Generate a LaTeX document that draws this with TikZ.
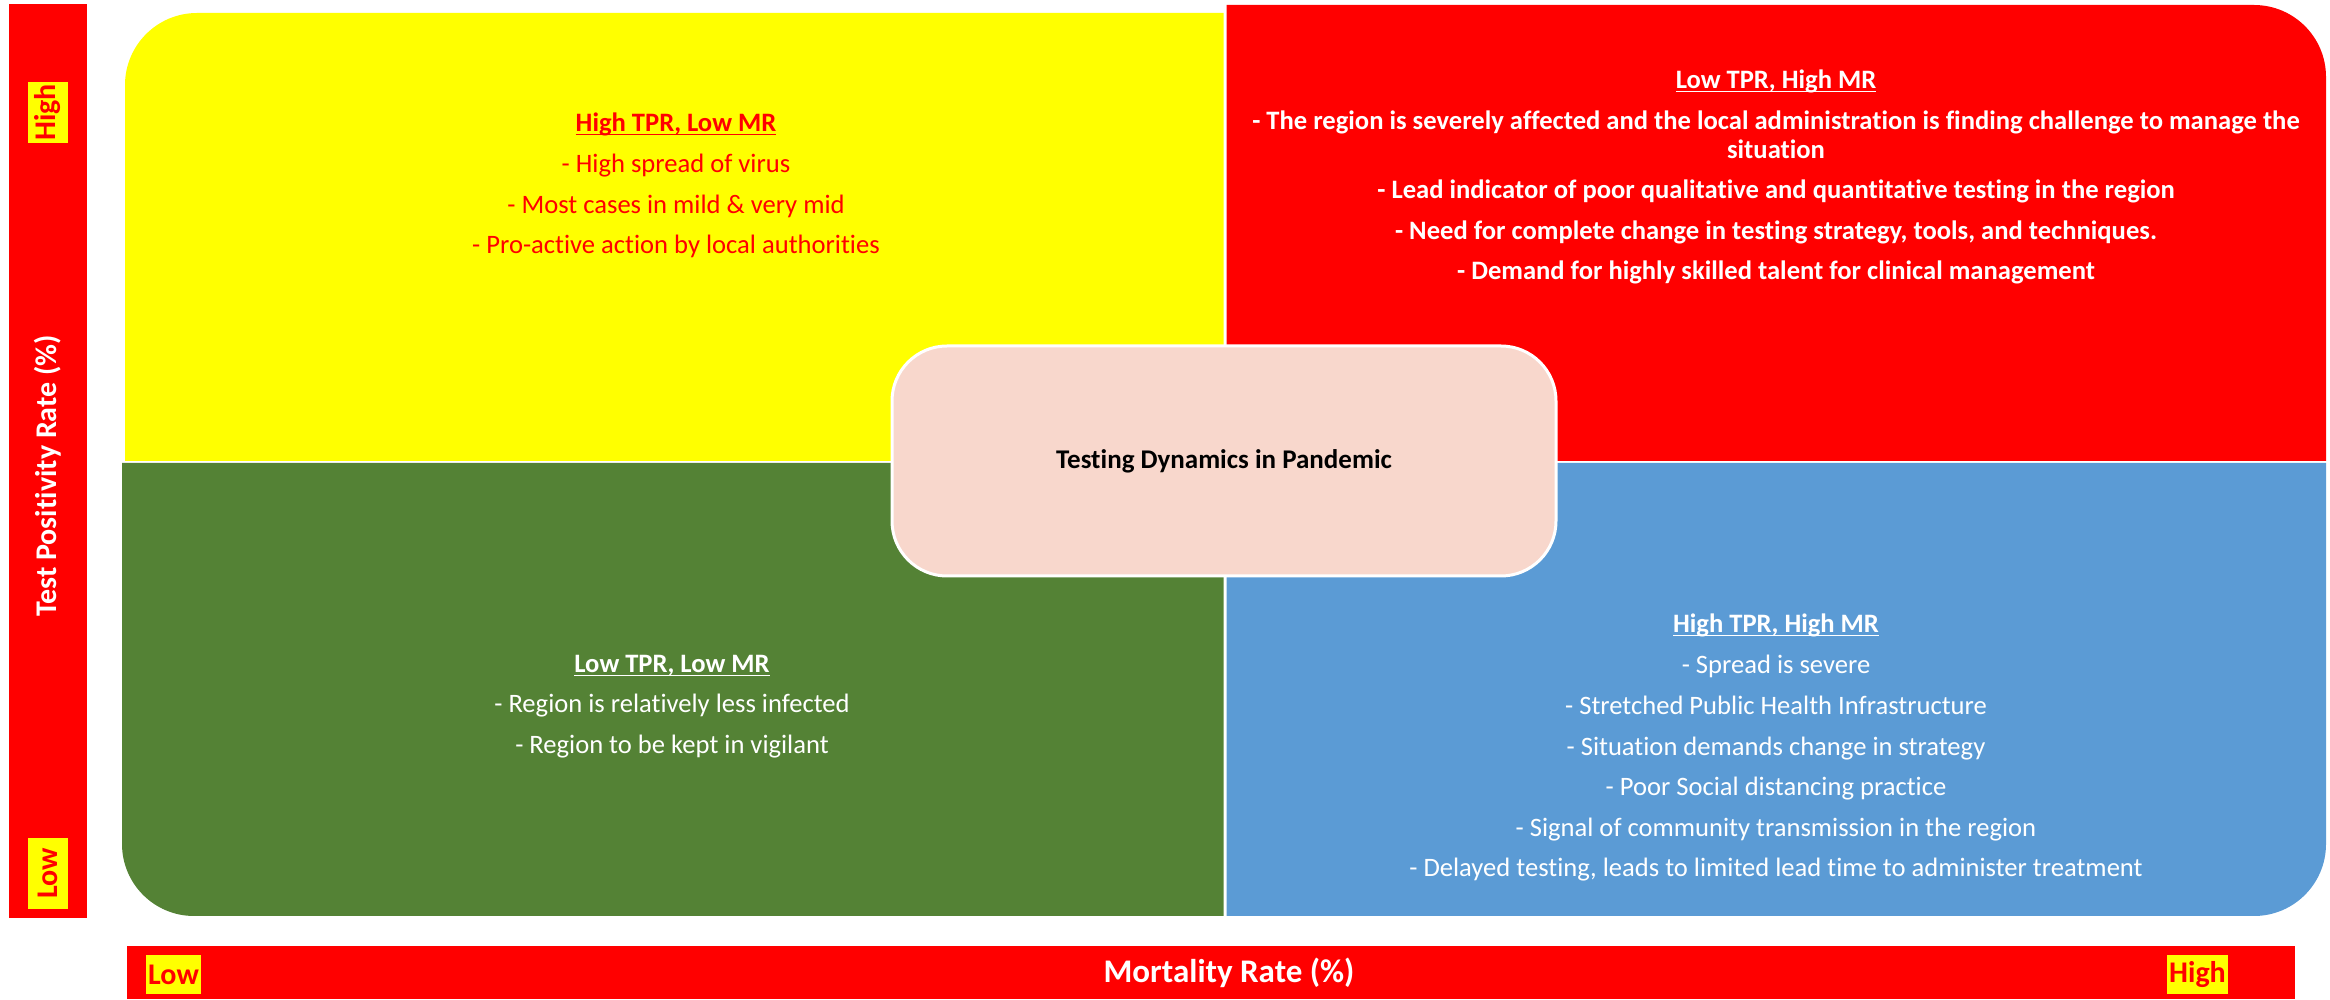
\documentclass[tikz,border=0pt]{standalone}
\usepackage{fontspec}
\setmainfont{Carlito}[Ligatures=NoCommon]
\definecolor{qyellow}{HTML}{FFFF00}
\definecolor{qred}{HTML}{FF0000}
\definecolor{qgreen}{HTML}{548235}
\definecolor{qblue}{HTML}{5B9BD5}
\definecolor{qcore}{HTML}{F8D7CC}
\newcommand{\myul}[1]{\setbox0\hbox{#1}\rlap{\rule[-3.5pt]{\wd0}{1.8pt}}\box0}
\newcommand{\qfont}{\fontsize{26.6}{32}\selectfont}
\newcommand{\axfont}{\fontsize{30}{36}\selectfont\bfseries}
\tikzset{
  ln/.style={anchor=base, inner sep=0pt, font=\qfont},
  lnb/.style={ln, font=\qfont\bfseries},
  axlab/.style={inner sep=0pt, font=\axfont},
  hilite/.style={axlab, fill=qyellow, text=qred},
}
\begin{document}
\begin{tikzpicture}[x=1pt,y=1pt]
\useasboundingbox (0,0) rectangle (2330,999);
% axis bars
\fill[qred] (9,81) rectangle (87,995);
\fill[qred] (127,0) rectangle (2295,53);
% quadrants
\fill[qyellow] (1223.5,538) -- (125,538) -- (125,914) arc[start angle=180,end angle=90,radius=72] -- (1223.5,986) -- cycle;
\fill[qred] (1226.5,538) -- (2326,538) -- (2326,922) arc[start angle=0,end angle=90,radius=72] -- (1226.5,994) -- cycle;
\fill[qgreen] (1223.5,536) -- (122,536) -- (122,155) arc[start angle=180,end angle=270,radius=72] -- (1223.5,83) -- cycle;
\fill[qblue] (1226.5,536) -- (2326,536) -- (2326,155) arc[start angle=0,end angle=-90,radius=72] -- (1226.5,83) -- cycle;
% centre
\node[draw=white, line width=3pt, fill=qcore, rounded corners=55pt, minimum width=664pt, minimum height=230pt, inner sep=0pt, font=\fontsize{27}{32}\selectfont\bfseries] (core) at (1224,538) {Testing Dynamics in Pandemic};
% axis labels
\node[axlab, rotate=90, text=white] (tpr) at (48,523) {Test Positivity Rate (\%)};
\node[hilite, rotate=90, minimum width=61pt, minimum height=40pt] (tprhigh) at (48,886.5) {High};
\node[hilite, rotate=90, minimum width=71pt, minimum height=40pt] (tprlow) at (48,125.5) {Low};
\node[axlab, text=white, font=\fontsize{33}{40}\selectfont\bfseries] (mr) at (1229,26) {Mortality Rate (\%)};
\node[hilite, minimum width=55pt, minimum height=39pt] (mrlow) at (173.5,24.5) {Low};
\node[hilite, minimum width=61pt, minimum height=39pt] (mrhigh) at (2197.5,24.5) {High};
% yellow quadrant
\begin{scope}[every node/.append style={text=qred}]
\node[lnb] (y0) at (676,867) {\myul{High TPR, Low MR}};
\node[ln] (y1) at (676,826) {- High spread of virus};
\node[ln] (y2) at (676,785) {- Most cases in mild \& very mid};
\node[ln] (y3) at (676,745) {- Pro-active action by local authorities};
\end{scope}
% red quadrant
\begin{scope}[every node/.append style={text=white}]
\node[lnb] (r0) at (1776,910) {\myul{Low TPR, High MR}};
\node[lnb] (r1) at (1776,869) {- The region is severely affected and the local administration is finding challenge to manage the};
\node[lnb] (r2) at (1776,840) {situation};
\node[lnb] (r3) at (1776,800) {- Lead indicator of poor qualitative and quantitative testing in the region};
\node[lnb] (r4) at (1776,759) {- Need for complete change in testing strategy, tools, and techniques.};
\node[lnb] (r5) at (1776,719) {- Demand for highly skilled talent for clinical management};
% green quadrant
\node[lnb] (g0) at (672,326) {\myul{Low TPR, Low MR}};
\node[ln] (g1) at (672,286) {- Region is relatively less infected};
\node[ln] (g2) at (672,245) {- Region to be kept in vigilant};
% blue quadrant
\node[lnb] (b0) at (1776,366) {\myul{High TPR, High MR}};
\node[ln] (b1) at (1776,325) {- Spread is severe};
\node[ln] (b2) at (1776,284) {- Stretched Public Health Infrastructure};
\node[ln] (b3) at (1776,243) {- Situation demands change in strategy};
\node[ln] (b4) at (1776,203) {- Poor Social distancing practice};
\node[ln] (b5) at (1776,162) {- Signal of community transmission in the region};
\node[ln] (b6) at (1776,122) {- Delayed testing, leads to limited lead time to administer treatment};
\end{scope}
\end{tikzpicture}
\end{document}
